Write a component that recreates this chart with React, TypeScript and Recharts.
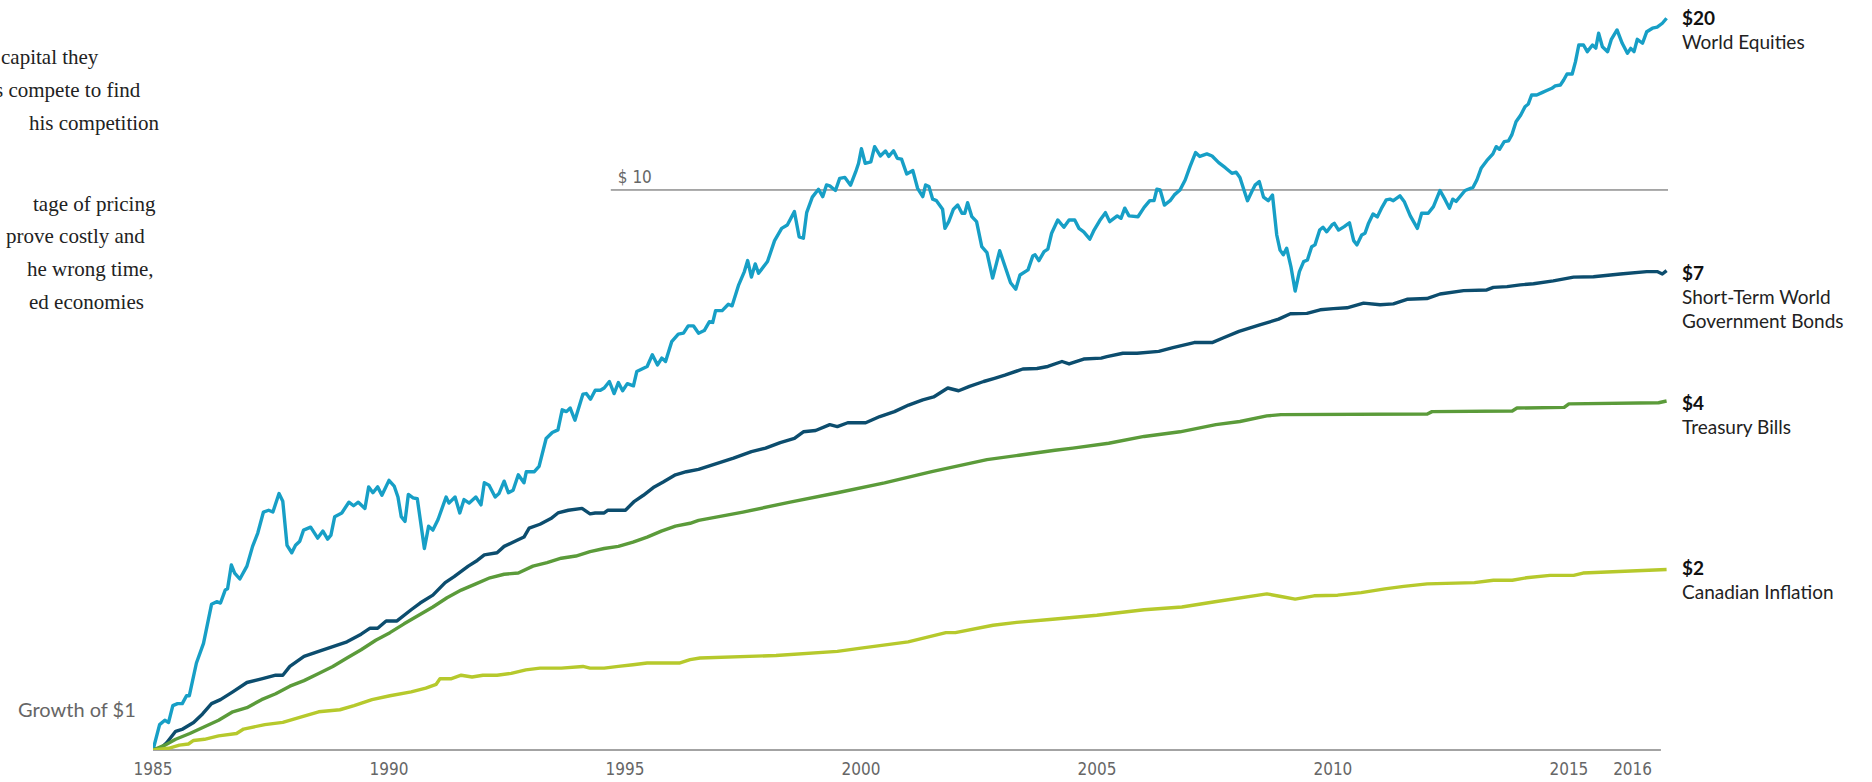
import React from 'react';
import { LineChart, Line, XAxis, YAxis, ReferenceLine } from 'recharts';

// [year, growth of $1], log scale
const worldEquities: [number, number][] = [
  [1985, 1.0], [1985.14, 1.11], [1985.25, 1.13], [1985.33, 1.12], [1985.42, 1.2], [1985.52, 1.21],
  [1985.62, 1.21], [1985.71, 1.25], [1985.77, 1.25], [1985.92, 1.43], [1986.07, 1.55], [1986.24, 1.82],
  [1986.35, 1.84], [1986.43, 1.83], [1986.53, 1.93], [1986.58, 1.94], [1986.66, 2.14], [1986.73, 2.07],
  [1986.84, 2.02], [1986.99, 2.13], [1987.11, 2.31], [1987.22, 2.44], [1987.34, 2.66], [1987.45, 2.68],
  [1987.54, 2.66], [1987.67, 2.87], [1987.75, 2.78], [1987.84, 2.32], [1987.94, 2.25], [1988.02, 2.32],
  [1988.11, 2.36], [1988.19, 2.47], [1988.34, 2.5], [1988.49, 2.39], [1988.6, 2.46], [1988.7, 2.38],
  [1988.77, 2.42], [1988.85, 2.61], [1989.0, 2.65], [1989.15, 2.77], [1989.25, 2.73], [1989.35, 2.77],
  [1989.49, 2.7], [1989.57, 2.95], [1989.66, 2.88], [1989.76, 2.95], [1989.85, 2.85], [1990.0, 3.03],
  [1990.11, 2.96], [1990.19, 2.83], [1990.26, 2.61], [1990.34, 2.56], [1990.41, 2.86], [1990.51, 2.82],
  [1990.6, 2.81], [1990.75, 2.29], [1990.84, 2.51], [1990.93, 2.47], [1991.04, 2.58], [1991.21, 2.83],
  [1991.27, 2.76], [1991.4, 2.83], [1991.5, 2.65], [1991.59, 2.8], [1991.7, 2.76], [1991.84, 2.83],
  [1991.95, 2.74], [1992.02, 3.0], [1992.12, 2.97], [1992.25, 2.83], [1992.33, 2.87], [1992.44, 3.02],
  [1992.53, 2.88], [1992.63, 2.91], [1992.74, 3.1], [1992.86, 3.0], [1992.91, 3.14], [1993.08, 3.14],
  [1993.18, 3.21], [1993.33, 3.6], [1993.46, 3.69], [1993.58, 3.73], [1993.67, 4.05], [1993.76, 4.02],
  [1993.84, 4.08], [1993.94, 3.88], [1994.11, 4.32], [1994.18, 4.33], [1994.27, 4.23], [1994.37, 4.39],
  [1994.48, 4.39], [1994.56, 4.43], [1994.67, 4.55], [1994.77, 4.33], [1994.86, 4.53], [1994.95, 4.38],
  [1995.05, 4.51], [1995.18, 4.47], [1995.25, 4.74], [1995.47, 4.84], [1995.58, 5.08], [1995.69, 4.87],
  [1995.78, 5.01], [1995.86, 4.94], [1995.99, 5.36], [1996.13, 5.53], [1996.24, 5.55], [1996.34, 5.72],
  [1996.45, 5.72], [1996.56, 5.55], [1996.68, 5.61], [1996.79, 5.82], [1996.86, 5.8], [1996.92, 6.09],
  [1997.06, 6.09], [1997.19, 6.25], [1997.27, 6.21], [1997.41, 6.77], [1997.53, 7.15], [1997.6, 7.48],
  [1997.68, 6.99], [1997.76, 7.38], [1997.83, 7.1], [1998.02, 7.45], [1998.17, 8.12], [1998.32, 8.54],
  [1998.44, 8.66], [1998.59, 9.15], [1998.69, 8.25], [1998.78, 8.2], [1998.85, 9.11], [1998.97, 9.71],
  [1999.1, 10.03], [1999.19, 9.73], [1999.27, 10.21], [1999.34, 10.17], [1999.46, 9.98], [1999.55, 10.49],
  [1999.66, 10.53], [1999.78, 10.2], [1999.89, 10.78], [1999.95, 11.16], [2000.01, 11.85], [2000.09, 11.16],
  [2000.21, 11.23], [2000.29, 11.95], [2000.41, 11.5], [2000.52, 11.74], [2000.59, 11.48], [2000.69, 11.75],
  [2000.77, 11.39], [2000.86, 11.35], [2000.97, 10.68], [2001.1, 10.83], [2001.2, 10.07], [2001.31, 9.73],
  [2001.37, 10.21], [2001.44, 10.14], [2001.52, 9.63], [2001.6, 9.57], [2001.73, 9.24], [2001.78, 8.54],
  [2001.86, 8.78], [2001.96, 9.24], [2002.05, 9.4], [2002.14, 9.09], [2002.2, 9.09], [2002.26, 9.49],
  [2002.35, 8.96], [2002.45, 8.78], [2002.56, 7.92], [2002.67, 7.73], [2002.79, 6.96], [2002.94, 7.79],
  [2003.17, 6.83], [2003.28, 6.65], [2003.37, 7.05], [2003.54, 7.2], [2003.64, 7.62], [2003.69, 7.66],
  [2003.77, 7.48], [2003.88, 7.76], [2003.96, 7.84], [2004.04, 8.37], [2004.17, 8.84], [2004.3, 8.58],
  [2004.41, 8.84], [2004.53, 8.84], [2004.62, 8.54], [2004.72, 8.42], [2004.85, 8.17], [2004.94, 8.48],
  [2005.06, 8.82], [2005.18, 9.11], [2005.27, 8.78], [2005.43, 8.99], [2005.51, 8.9], [2005.59, 9.28],
  [2005.68, 8.99], [2005.87, 8.96], [2006.0, 9.31], [2006.12, 9.57], [2006.21, 9.57], [2006.27, 10.03],
  [2006.34, 10.0], [2006.43, 9.4], [2006.55, 9.57], [2006.64, 9.8], [2006.76, 10.0], [2006.87, 10.42],
  [2006.97, 11.0], [2007.09, 11.66], [2007.18, 11.48], [2007.33, 11.6], [2007.44, 11.5], [2007.58, 11.19],
  [2007.72, 10.96], [2007.86, 10.71], [2007.95, 10.76], [2008.03, 10.53], [2008.11, 10.03], [2008.19, 9.57],
  [2008.28, 9.93], [2008.35, 10.2], [2008.44, 10.35], [2008.53, 9.71], [2008.63, 9.57], [2008.72, 9.79],
  [2008.81, 8.31], [2008.88, 7.81], [2008.95, 7.66], [2009.02, 7.87], [2009.11, 7.3], [2009.2, 6.6],
  [2009.29, 7.15], [2009.38, 7.45], [2009.46, 7.5], [2009.55, 7.92], [2009.62, 7.98], [2009.72, 8.48],
  [2009.79, 8.58], [2009.87, 8.42], [2009.98, 8.66], [2010.03, 8.72], [2010.12, 8.48], [2010.24, 8.6],
  [2010.35, 8.74], [2010.44, 8.12], [2010.51, 7.98], [2010.61, 8.31], [2010.68, 8.37], [2010.75, 8.7],
  [2010.85, 9.06], [2010.94, 8.95], [2011.04, 9.31], [2011.13, 9.6], [2011.21, 9.63], [2011.28, 9.57],
  [2011.42, 9.76], [2011.51, 9.54], [2011.64, 8.99], [2011.79, 8.54], [2011.88, 9.09], [2012.02, 9.09],
  [2012.13, 9.34], [2012.27, 9.98], [2012.38, 9.6], [2012.47, 9.28], [2012.54, 9.63], [2012.61, 9.54],
  [2012.8, 9.98], [2012.97, 10.11], [2013.05, 10.42], [2013.14, 10.93], [2013.26, 11.28], [2013.39, 11.6],
  [2013.46, 11.95], [2013.53, 11.82], [2013.63, 12.2], [2013.72, 12.24], [2013.79, 12.54], [2013.88, 13.24],
  [2013.98, 13.61], [2014.07, 14.08], [2014.14, 14.24], [2014.21, 14.78], [2014.32, 14.78], [2014.43, 14.92],
  [2014.53, 15.05], [2014.64, 15.19], [2014.71, 15.34], [2014.82, 15.4], [2014.89, 15.72], [2014.96, 16.11],
  [2015.07, 16.11], [2015.14, 16.95], [2015.21, 18.15], [2015.31, 18.15], [2015.39, 17.66], [2015.5, 18.15],
  [2015.57, 17.92], [2015.63, 19.05], [2015.71, 18.02], [2015.82, 17.66], [2015.9, 18.58], [2016.02, 19.31],
  [2016.13, 18.28], [2016.24, 17.54], [2016.31, 17.9], [2016.38, 17.66], [2016.45, 18.58], [2016.56, 18.28],
  [2016.65, 19.17], [2016.77, 19.45], [2016.87, 19.53], [2016.98, 19.85], [2017.07, 20.26],
];

const worldBonds: [number, number][] = [
  [1985, 1.0], [1985.18, 1.01], [1985.29, 1.03], [1985.48, 1.08], [1985.63, 1.09], [1985.86, 1.12],
  [1986.05, 1.16], [1986.24, 1.21], [1986.43, 1.23], [1986.69, 1.27], [1986.99, 1.32], [1987.3, 1.34],
  [1987.6, 1.36], [1987.75, 1.36], [1987.9, 1.41], [1988.2, 1.47], [1988.51, 1.5], [1988.81, 1.53],
  [1989.11, 1.56], [1989.41, 1.61], [1989.6, 1.65], [1989.76, 1.65], [1989.94, 1.7], [1990.17, 1.7],
  [1990.47, 1.78], [1990.66, 1.83], [1990.93, 1.89], [1991.19, 1.99], [1991.38, 2.04], [1991.68, 2.13],
  [1991.87, 2.18], [1992.02, 2.23], [1992.29, 2.25], [1992.44, 2.31], [1992.67, 2.36], [1992.86, 2.4],
  [1992.97, 2.49], [1993.2, 2.53], [1993.43, 2.59], [1993.58, 2.65], [1993.8, 2.68], [1994.09, 2.7],
  [1994.26, 2.64], [1994.37, 2.65], [1994.56, 2.65], [1994.64, 2.68], [1994.79, 2.68], [1995.01, 2.68],
  [1995.2, 2.78], [1995.39, 2.85], [1995.62, 2.95], [1995.81, 3.01], [1996.07, 3.1], [1996.3, 3.14],
  [1996.56, 3.17], [1997.3, 3.32], [1997.68, 3.41], [1997.98, 3.46], [1998.29, 3.54], [1998.59, 3.6],
  [1998.78, 3.7], [1999.04, 3.72], [1999.34, 3.81], [1999.5, 3.78], [1999.72, 3.84], [2000.1, 3.84],
  [2000.4, 3.94], [2000.71, 4.02], [2001.01, 4.13], [2001.31, 4.22], [2001.54, 4.27], [2001.84, 4.43],
  [2002.07, 4.38], [2002.3, 4.46], [2002.6, 4.55], [2002.83, 4.61], [2003.05, 4.67], [2003.43, 4.79],
  [2003.73, 4.8], [2003.96, 4.84], [2004.26, 4.94], [2004.41, 4.89], [2004.72, 4.99], [2005.09, 5.01],
  [2005.21, 5.04], [2005.55, 5.11], [2005.85, 5.11], [2006.31, 5.15], [2006.61, 5.23], [2007.06, 5.34],
  [2007.44, 5.34], [2007.67, 5.44], [2008.01, 5.59], [2008.45, 5.74], [2008.85, 5.88], [2009.1, 6.01],
  [2009.45, 6.02], [2009.73, 6.11], [2010.01, 6.14], [2010.3, 6.16], [2010.65, 6.28], [2011.0, 6.24],
  [2011.28, 6.26], [2011.57, 6.38], [2011.99, 6.4], [2012.27, 6.52], [2012.77, 6.61], [2013.26, 6.63],
  [2013.4, 6.7], [2013.69, 6.72], [2013.97, 6.77], [2014.25, 6.8], [2014.67, 6.88], [2015.1, 6.99],
  [2015.52, 7.0], [2016.09, 7.08], [2016.65, 7.15], [2016.87, 7.15], [2016.98, 7.08], [2017.07, 7.18],
];

const treasuryBills: [number, number][] = [
  [1985, 1.0], [1985.25, 1.02], [1985.48, 1.045], [1985.78, 1.07], [1986.09, 1.1], [1986.39, 1.13],
  [1986.69, 1.17], [1986.99, 1.19], [1987.3, 1.23], [1987.6, 1.26], [1987.9, 1.3], [1988.2, 1.33],
  [1988.51, 1.37], [1988.81, 1.41], [1989.11, 1.46], [1989.41, 1.51], [1989.72, 1.57], [1990.02, 1.62],
  [1990.32, 1.68], [1990.63, 1.74], [1990.93, 1.8], [1991.23, 1.87], [1991.53, 1.93], [1991.84, 1.98],
  [1992.14, 2.03], [1992.44, 2.06], [1992.74, 2.07], [1993.05, 2.13], [1993.35, 2.16], [1993.65, 2.2],
  [1993.96, 2.22], [1994.26, 2.26], [1994.56, 2.29], [1994.86, 2.31], [1995.17, 2.35], [1995.47, 2.4],
  [1995.77, 2.46], [1996.07, 2.51], [1996.38, 2.54], [1996.56, 2.57], [1997.5, 2.66], [1998.5, 2.77],
  [1999.5, 2.88], [2000.5, 3.0], [2001.5, 3.14], [2002.67, 3.3], [2003.35, 3.36], [2004.11, 3.43],
  [2004.49, 3.46], [2005.25, 3.53], [2006.0, 3.63], [2006.76, 3.7], [2007.52, 3.81], [2008.03, 3.86],
  [2008.6, 3.95], [2008.9, 3.97], [2012.0, 3.98], [2012.1, 4.02], [2013.8, 4.03], [2013.9, 4.08],
  [2014.9, 4.09], [2015.0, 4.15], [2016.9, 4.17], [2017.07, 4.2],
];

const canadianInflation: [number, number][] = [
  [1985, 1.0], [1985.33, 1.007], [1985.56, 1.02], [1985.75, 1.025], [1985.86, 1.04], [1986.09, 1.045],
  [1986.39, 1.06], [1986.77, 1.07], [1986.92, 1.09], [1987.37, 1.11], [1987.75, 1.12], [1988.2, 1.15],
  [1988.51, 1.17], [1988.96, 1.18], [1989.26, 1.2], [1989.64, 1.23], [1990.02, 1.25], [1990.47, 1.27],
  [1990.78, 1.29], [1991.0, 1.31], [1991.08, 1.34], [1991.31, 1.34], [1991.53, 1.36], [1991.76, 1.35],
  [1991.99, 1.36], [1992.29, 1.36], [1992.59, 1.37], [1992.9, 1.39], [1993.2, 1.4], [1993.65, 1.4],
  [1994.11, 1.41], [1994.26, 1.4], [1994.56, 1.4], [1994.86, 1.41], [1995.17, 1.42], [1995.47, 1.43],
  [1996.15, 1.43], [1996.38, 1.45], [1996.59, 1.46], [1998.2, 1.475], [1999.5, 1.5], [2000.0, 1.52],
  [2001.0, 1.56], [2001.8, 1.62], [2002.0, 1.62], [2002.8, 1.67], [2003.3, 1.69], [2004.0, 1.71],
  [2005.0, 1.74], [2006.0, 1.78], [2006.8, 1.8], [2007.5, 1.84], [2008.6, 1.9], [2008.9, 1.88],
  [2009.2, 1.86], [2009.6, 1.885], [2010.1, 1.89], [2010.6, 1.91], [2011.1, 1.94], [2011.5, 1.96],
  [2012.0, 1.98], [2013.0, 1.99], [2013.4, 2.01], [2013.8, 2.01], [2014.1, 2.03], [2014.6, 2.05],
  [2015.1, 2.05], [2015.3, 2.07], [2017.07, 2.1],
];

const yearTicks = [1985, 1990, 1995, 2000, 2005, 2010, 2015, 2016.35];

const toRows = (pts: [number, number][]) => pts.map(([t, v]) => ({ t, v }));

const seriesList = [
  { key: 'equities', data: toRows(worldEquities), color: '#179fc6' },
  { key: 'bonds', data: toRows(worldBonds), color: '#0c4d6e' },
  { key: 'bills', data: toRows(treasuryBills), color: '#5b9b3a' },
  { key: 'inflation', data: toRows(canadianInflation), color: '#b6c92c' },
];

const endLabels = [
  { value: '$20', lines: ['World Equities'], y: 25 },
  { value: '$7', lines: ['Short-Term World', 'Government Bonds'], y: 280 },
  { value: '$4', lines: ['Treasury Bills'], y: 410 },
  { value: '$2', lines: ['Canadian Inflation'], y: 575 },
];

// cropped paragraph on the left edge of the page
const introLines = [
  { text: 'capital they', x: 1, y: 64 },
  { text: 's compete to find', x: -5, y: 97 },
  { text: 'his competition', x: 29, y: 130 },
  { text: 'tage of pricing', x: 33, y: 211 },
  { text: 'prove costly and', x: 6, y: 243 },
  { text: 'he wrong time,', x: 27, y: 276 },
  { text: 'ed economies', x: 29, y: 309 },
];

const narrow = "'Liberation Sans Narrow', 'DejaVu Sans Condensed', sans-serif";
const labelFont = "Lato, 'Noto Sans', sans-serif";

const tenLabel = (props: any) => {
  const vb = props.viewBox || {};
  return (
    <text x={vb.x + 7} y={vb.y - 7} fill="#666" fontSize={17} fontFamily={narrow}>
      $ 10
    </text>
  );
};

export default function App() {
  return (
    <div style={{ position: 'absolute', left: 0, top: 0, width: 1872, height: 782, background: '#fff', overflow: 'hidden' }}>
      <LineChart width={1872} height={782} margin={{ top: 10, right: 204, bottom: 0, left: 153 }}>
        <XAxis
          type="number"
          dataKey="t"
          domain={[1985, 2017.1]}
          allowDataOverflow
          ticks={yearTicks}
          interval={0}
          tickFormatter={(v: number) => String(Math.floor(v))}
          axisLine={false}
          tickLine={false}
          tickSize={6}
          tickMargin={7}
          height={32}
          tick={{ fill: '#666', fontSize: 17, fontFamily: narrow }}
        />
        <YAxis hide type="number" scale="log" domain={[1, 20.96]} allowDataOverflow />
        <ReferenceLine
          segment={[{ x: 1985, y: 1 }, { x: 2016.95, y: 1 }]}
          stroke="#a3a3a3"
          strokeWidth={2}
          ifOverflow="visible"
        />
        <ReferenceLine
          segment={[{ x: 1994.7, y: 10 }, { x: 2017.1, y: 10 }]}
          stroke="#555"
          strokeWidth={1}
          ifOverflow="visible"
          label={tenLabel}
        />
        {seriesList.map((s) => (
          <Line
            key={s.key}
            data={s.data}
            dataKey="v"
            type="linear"
            stroke={s.color}
            strokeWidth={3.4}
            strokeLinejoin="round"
            dot={false}
            activeDot={false}
            isAnimationActive={false}
          />
        ))}
      </LineChart>
      <svg width={1872} height={782} style={{ position: 'absolute', left: 0, top: 0, pointerEvents: 'none' }}>
        {introLines.map((l) => (
          <text key={l.text} x={l.x} y={l.y} fontSize={21} fill="#222" fontFamily="'Liberation Serif', serif">
            {l.text}
          </text>
        ))}
        <text x={18} y={717} fontSize={20} fill="#666" fontFamily={labelFont}>
          Growth of $1
        </text>
        {endLabels.map((e) => (
          <g key={e.value}>
            <text x={1682} y={e.y} fontSize={19} fontWeight={700} fill="#111" fontFamily={labelFont}>
              {e.value}
            </text>
            {e.lines.map((ln, i) => (
              <text key={ln} x={1682} y={e.y + 24 * (i + 1)} fontSize={19} fill="#222" fontFamily={labelFont}>
                {ln}
              </text>
            ))}
          </g>
        ))}
      </svg>
    </div>
  );
}
